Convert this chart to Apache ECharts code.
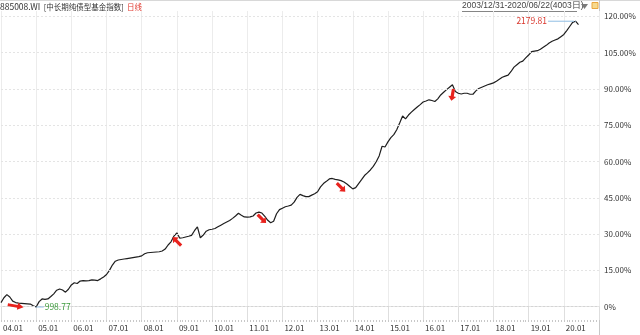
<!DOCTYPE html>
<html><head><meta charset="utf-8">
<script src="https://cdn.jsdelivr.net/npm/echarts@6/dist/echarts.min.js"></script>
<style>html,body{margin:0;padding:0;background:#fff}#c{width:640px;height:335px}</style>
</head><body><div id="c"></div>
<script>
// ---- data (percent change vs. base 1000, month-start samples) ----
const startYear = 2004, endAxisYear = 2021;
const pctChange = [
1.7,3.7,5.0,4.0,2.3,1.7,1.5,1.4,1.3,1.2,1.1,0.4,
-0.12,2.1,3.2,3.0,3.2,4.2,5.3,6.8,7.3,6.9,6.0,7.2,
9.0,9.9,9.6,10.6,10.8,10.7,10.8,11.1,11.0,10.8,11.5,12.3,
13.3,15.0,17.2,18.8,19.3,19.5,19.7,19.9,20.1,20.3,20.5,20.7,
21.0,21.9,22.3,22.4,22.5,22.6,22.7,23.0,23.8,25.5,26.8,29.2,
30.5,28.3,28.5,28.8,29.1,29.5,31.4,33.0,28.5,29.6,31.2,31.8,
32.0,32.3,33.0,33.7,34.4,35.0,35.6,36.5,37.5,38.6,37.8,37.1,
37.0,37.1,37.5,38.7,39.1,38.7,37.3,35.7,34.7,35.3,38.4,40.1,
40.7,41.3,41.6,42.0,43.2,45.2,46.4,45.9,45.5,45.5,46.1,46.7,
47.5,49.5,50.9,51.8,52.8,53.0,52.6,52.4,52.1,51.5,50.7,49.7,
48.7,49.2,50.9,52.5,54.2,55.3,56.5,58.0,59.9,62.3,66.3,66.0,
68.1,69.9,71.1,73.1,75.9,78.8,77.6,79.2,80.4,81.5,82.5,83.5,
84.6,85.0,85.5,85.2,84.8,85.9,87.5,88.6,89.7,90.7,91.7,88.9,
88.2,87.9,88.2,88.2,87.8,87.8,89.2,90.2,90.7,91.2,91.7,92.1,
92.5,93.2,94.0,94.8,95.3,95.7,97.2,99.0,100.0,101.0,101.5,102.8,
104.0,105.4,105.6,105.8,106.4,107.2,108.0,109.0,109.7,110.2,110.7,111.6,
112.5,114.1,115.8,117.5,117.98,116.6
];
const yTicks = [0,15,30,45,60,75,90,105,120];
const minLabel = '998.77';
const maxLabel = '2179.81';
const titleCode = '885008.WI';
const titleName = '[中长期纯债型基金指数]';
const titleTag = '日线';
const rangeText = '2003/12/31-2020/06/22(4003日)';
// signal arrows: [category, value, rotation, kind]
const signals = [
  ['2004-06', 0.3, -100, 'long'],
  ['2009-01', 27.0, 45, 'short'],
  ['2011-06', 36.3, -135, 'short'],
  ['2013-09', 49.3, -135, 'short'],
  ['2016-11', 87.5, 170, 'short']
];

// categories: months from 2004-01 to 2021-01
const months = [];
for (let y = startYear; y <= endAxisYear; y++) {
  for (let m = 1; m <= 12; m++) {
    if (y === endAxisYear && m > 1) break;
    months.push(y + '-' + String(m).padStart(2, '0'));
  }
}
const isYearStart = (i) => months[i].endsWith('-01');
const isLabelYear = (i) => isYearStart(i) && i < months.length - 1;

const arrowPath = 'path://M5,0 L10,5 L7,5 L7,13 L3,13 L3,5 L0,5 Z';
const signalPoints = signals.map(s => ({
  coord: [s[0], s[1]],
  symbol: arrowPath,
  symbolSize: s[3] === 'long' ? [7, 16] : [8, 12],
  symbolRotate: s[2],
  itemStyle: { color: '#e8231e' },
  label: { show: false }
}));

const chart = echarts.init(document.getElementById('c'), null, { renderer: 'canvas' });
const FONT = '"Noto Sans CJK SC", "Noto Sans", sans-serif';
chart.setOption({
  animation: false,
  textStyle: { fontFamily: FONT },
  grid: { left: 0, right: 41, top: 11, bottom: 15 },
  xAxis: [{
    type: 'category', data: months, boundaryGap: false,
    axisLine: { show: true, lineStyle: { color: '#d4d4d4', width: 1 } },
    axisTick: { show: true, interval: (i) => isYearStart(i), length: 14, lineStyle: { color: '#dedede' } },
    axisLabel: {
      interval: (i) => isLabelYear(i), align: 'left', margin: 4,
      padding: [0, 0, 0, 2], fontSize: 8, color: '#333', fontFamily: FONT,
      formatter: (v) => v.slice(2, 4) + '.01'
    },
    splitLine: { show: true, interval: (i) => isYearStart(i), lineStyle: { color: '#ececec', width: 1 } }
  }, {
    type: 'category', data: months, boundaryGap: false, position: 'bottom',
    axisLine: { show: false },
    axisTick: { show: true, interval: 0, length: 2, lineStyle: { color: '#c8c8c8' } },
    axisLabel: { show: false }, splitLine: { show: false }
  }],
  yAxis: {
    type: 'value', position: 'right', min: -5.5, max: 122.2,
    axisLine: { show: false }, axisTick: { show: false },
    splitLine: { show: false },
    axisLabel: {
      customValues: yTicks, margin: 5, fontSize: 8, color: '#333', fontFamily: FONT,
      formatter: (v) => v === 0 ? '0%' : v.toFixed(2) + '%'
    }
  },
  series: [{
    type: 'line', data: pctChange, xAxisIndex: 0, showSymbol: false, symbol: 'none',
    lineStyle: { color: '#1e1e1e', width: 1.2 },
    markLine: {
      silent: true, symbol: 'none', label: { show: false },
      lineStyle: { color: '#e4e4e4', type: [2, 2], width: 1 },
      data: yTicks.map(v => ({ yAxis: v }))
    },
    markPoint: {
      silent: true,
      data: [
        { type: 'min', symbol: 'circle', symbolSize: 1, itemStyle: { color: '#8fbde3' },
          label: { show: true, position: 'right', distance: 0,
            formatter: '{l| }{t|' + minLabel + '}',
            rich: { l: { width: 7, height: 1, backgroundColor: '#8fbde3' },
                    t: { color: '#3d9b3d', fontSize: 8.5, fontFamily: FONT, padding: [0, 0, 0, 1] } } } },
        { type: 'max', symbol: 'circle', symbolSize: 1, itemStyle: { color: '#8fbde3' },
          label: { show: true, position: 'left', distance: 1,
            formatter: '{t|' + maxLabel + '}{l| }',
            rich: { l: { width: 26, height: 1, backgroundColor: '#8fbde3' },
                    t: { color: '#d9362c', fontSize: 8.5, fontFamily: FONT, padding: [0, 1, 0, 0] } } } }
      ].concat(signalPoints)
    }
  }],
  graphic: [
    { type: 'line', shape: { x1: 0, y1: 0.5, x2: 640, y2: 0.5 }, style: { stroke: '#d8d8d8', lineWidth: 1 } },
    { type: 'line', shape: { x1: 599.5, y1: 0, x2: 599.5, y2: 335 }, style: { stroke: '#c8c8c8', lineWidth: 1 } },
    { type: 'text', left: 0, top: 1, style: {
        text: '{a|' + titleCode + '} {b|' + titleName + '} {c|' + titleTag + '}',
        rich: {
          a: { fontSize: 8.5, fill: '#333', fontFamily: FONT },
          b: { fontSize: 7.5, fill: '#333', fontFamily: FONT },
          c: { fontSize: 7.5, fill: '#e03a30', fontFamily: FONT }
        } } },
    { type: 'text', left: 462, top: 1, style: { text: rangeText, fontSize: 8.5, fill: '#444', font: '8.5px ' + FONT } },
    { type: 'line', shape: { x1: 462, y1: 11.5, x2: 577, y2: 11.5 }, style: { stroke: '#666', lineWidth: 0.8 } },
    { type: 'polygon', shape: { points: [[581, 4], [588, 4], [584.5, 9]] }, style: { fill: '#7a7a7a' } },
    { type: 'rect', shape: { x: 592, y: 2.5, width: 6, height: 6 }, style: { fill: '#f7d98c', stroke: '#e9a640', lineWidth: 1 } }
  ]
});
</script>
</body></html>
